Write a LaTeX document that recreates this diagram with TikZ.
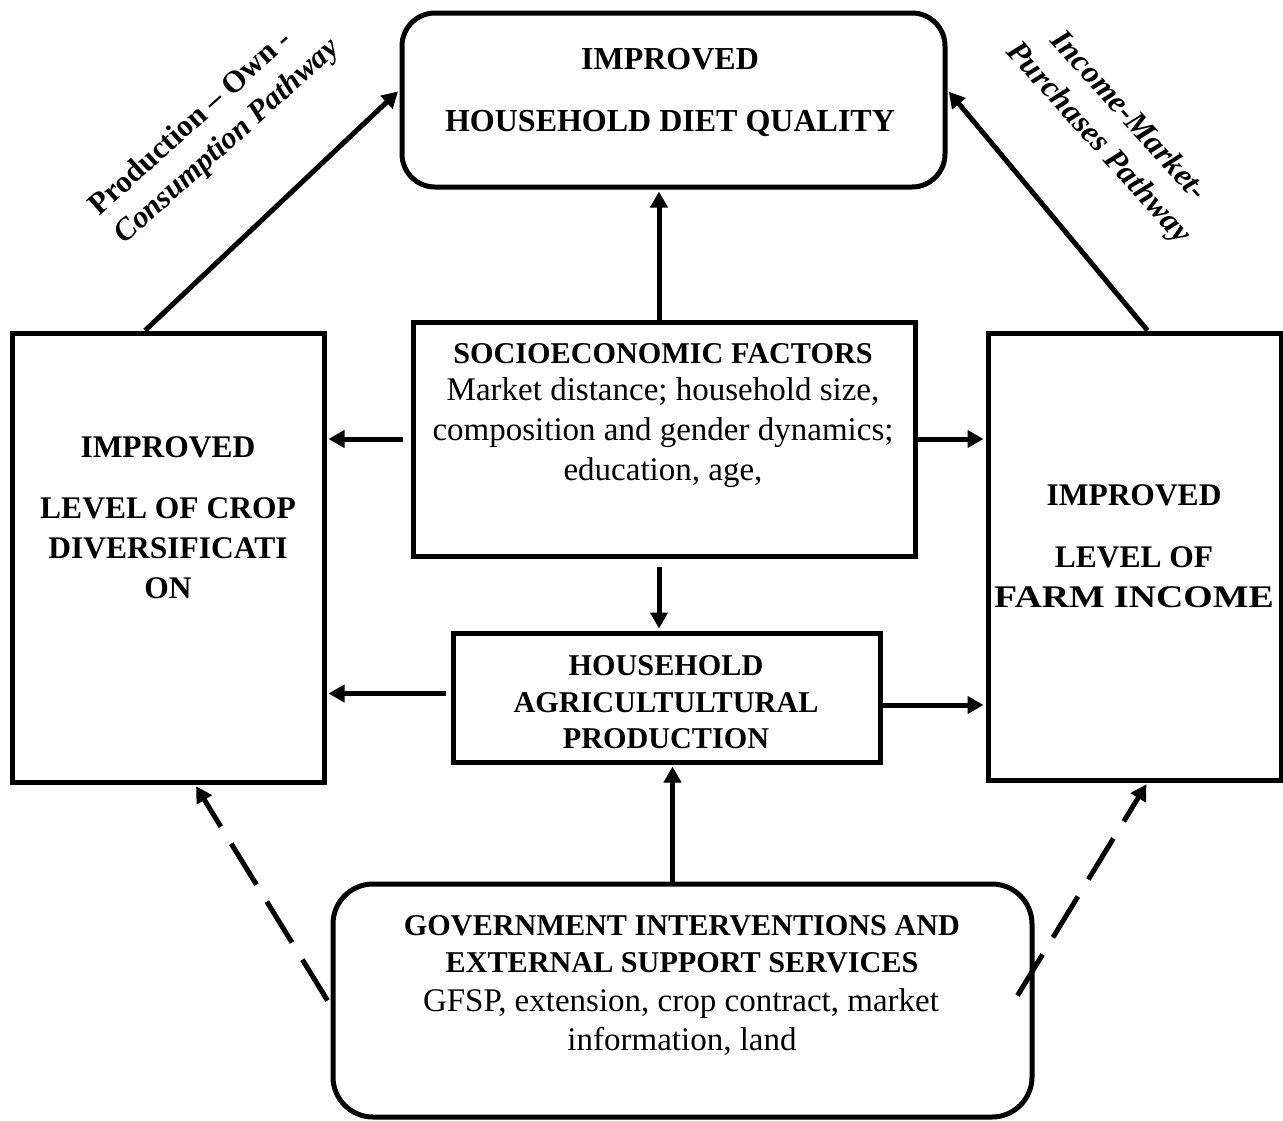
\documentclass[tikz,border=0pt]{standalone}
\usepackage{fontspec}
\setmainfont{Liberation Serif}
\usetikzlibrary{arrows.meta,calc}
\begin{document}
\begin{tikzpicture}[x=1pt,y=-1pt,
  box/.style={draw,line width=5pt,rectangle,inner sep=0pt},
  rbox/.style={box,rounded corners=#1},
  arr/.style={line width=5pt,shorten >=2pt,-{Triangle[length=16pt,width=17pt]}},
  darr/.style={arr,dash pattern=on 48pt off 20pt},
  tb/.style={anchor=base,inner sep=0pt,font=\fontsize{31.5}{37}\selectfont\bfseries},
  tbs/.style={tb,font=\fontsize{30.2}{37}\selectfont\bfseries},
  tr/.style={anchor=base,inner sep=0pt,font=\fontsize{33}{38}\selectfont},
]
\useasboundingbox (0,0) rectangle (1283,1120);

% boxes
\node[rbox=33pt, minimum width=543pt, minimum height=174pt] (top) at (673.5,100) {};
\node[box, minimum width=312pt, minimum height=449pt] (left) at (168,557.5) {};
\node[box, minimum width=502pt, minimum height=234pt] (socio) at (664,439) {};
\node[box, minimum width=293pt, minimum height=447pt] (right) at (1134.5,556.5) {};
\node[box, minimum width=427pt, minimum height=129pt] (hh) at (666.5,697.5) {};
\node[rbox=40pt, minimum width=699pt, minimum height=233pt] (gov) at (682.5,1000.5) {};

% texts
\node[tb, font=\fontsize{32}{37}\selectfont\bfseries] (t1) at (670,69) {IMPROVED};
\node[tb, font=\fontsize{32}{37}\selectfont\bfseries] (t2) at (670,131) {HOUSEHOLD DIET QUALITY};

\node[tb] (l1) at (168,457) {IMPROVED};
\node[tb] (l2) at (168,518) {LEVEL OF CROP};
\node[tb] (l3) at (168,558) {DIVERSIFICATI};
\node[tb] (l4) at (168,598) {ON};

\node[tb] (r1) at (1134,505) {IMPROVED};
\node[tb] (r2) at (1134,567) {LEVEL OF};
\node[tb] (r3) at (1134,607) {\scalebox{1.2}[1]{FARM INCOME}};

\node[tbs] (s1) at (663,363) {SOCIOECONOMIC FACTORS};
\node[tr] (s2) at (663,400) {Market distance; household size,};
\node[tr] (s3) at (663,440) {composition and gender dynamics;};
\node[tr] (s4) at (663,480) {education, age,};

\node[tbs] (h1) at (666,675) {HOUSEHOLD};
\node[tbs] (h2) at (666,712) {AGRICULTULTURAL};
\node[tbs] (h3) at (666,748) {PRODUCTION};

\node[tbs] (g1) at (682,935) {GOVERNMENT INTERVENTIONS AND};
\node[tbs] (g2) at (682,972) {EXTERNAL SUPPORT SERVICES};
\node[tr] (g3) at (681,1011) {GFSP, extension, crop contract, market};
\node[tr] (g4) at (682,1050) {information, land};

% pathway labels
\node[rotate=42, align=left, inner sep=0pt, font=\fontsize{31}{38}\selectfont\bfseries] (lp) at (215,128)
  {Production – Own -\\\textit{Consumption Pathway}};
\node[rotate=-48, align=center, inner sep=0pt, font=\fontsize{32}{40}\selectfont\bfseries\itshape] (rp) at (1113,130)
  {Income-Market-\\Purchases Pathway};

% connectors
\draw[arr] ($(socio.north)+(-5,0)$) -- ($(top.south)+(-14.5,0)$);
\draw[arr] ($(left.north)+(-23,0)$) -- ($(top.west)+(0,-10)$);
\draw[arr] ($(right.north)+(13,0)$) -- ($(top.east)+(0,-10)$);
\draw[arr] ($(socio.west)+(-8,0)$) -- (socio.west -| left.east);
\draw[arr] (socio.east) -- (socio.east -| right.west);
\draw[arr] ($(socio.south)+(-5,8)$) -- ($(hh.north)+(-7.5,0)$);
\draw[arr] ($(hh.west)+(-5,-4)$) -- ($(hh.west -| left.east)+(0,-4)$);
\draw[arr] ($(hh.east)+(0,7.5)$) -- ($(hh.east -| right.west)+(0,7.5)$);
\draw[arr] ($(gov.north)+(-10,0)$) -- ($(hh.south)+(6,0)$);
\draw[darr] ($(gov.west)+(-3,0)$) -- ($(left.south)+(27,0)$);
\draw[darr] ($(gov.east)+(-17,-5)$) -- ($(right.south)+(13,0)$);
\end{tikzpicture}
\end{document}
